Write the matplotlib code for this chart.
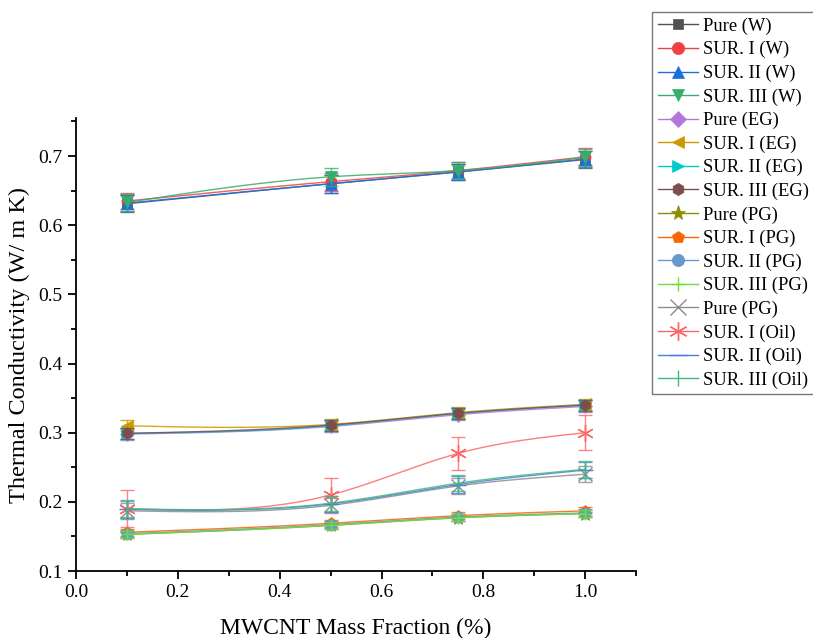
import numpy as np
import matplotlib
matplotlib.use("Agg")
import matplotlib.pyplot as plt
from matplotlib.lines import Line2D
from matplotlib.ticker import MultipleLocator

plt.rcParams['font.family'] = ['Liberation Serif', 'DejaVu Serif']

# mass fraction of MWCNT (%)
mass = [0.1, 0.5, 0.75, 1.0]

labels = ["Pure (W)", "SUR. I (W)", "SUR. II (W)", "SUR. III (W)",
          "Pure (EG)", "SUR. I (EG)", "SUR. II (EG)", "SUR. III (EG)",
          "Pure (PG)", "SUR. I (PG)", "SUR. II (PG)", "SUR. III (PG)",
          "Pure (PG)", "SUR. I (Oil)", "SUR. II (Oil)", "SUR. III (Oil)"]

pure_w = [0.631, 0.660, 0.677, 0.695]
sur1_w = [0.635, 0.663, 0.679, 0.699]
sur2_w = [0.632, 0.660, 0.677, 0.696]
sur3_w = [0.633, 0.670, 0.679, 0.698]

pure_eg = [0.298, 0.309, 0.326, 0.338]
sur1_eg = [0.310, 0.312, 0.329, 0.341]
sur2_eg = [0.299, 0.310, 0.328, 0.340]
sur3_eg = [0.299, 0.311, 0.328, 0.340]

pure_pg = [0.153, 0.166, 0.177, 0.183]
sur1_pg = [0.156, 0.169, 0.180, 0.187]
sur2_pg = [0.154, 0.167, 0.178, 0.184]
sur3_pg = [0.153, 0.166, 0.177, 0.183]

pure_oil = [0.187, 0.195, 0.223, 0.240]
sur1_oil = [0.190, 0.210, 0.270, 0.300]
sur2_oil = [0.189, 0.197, 0.225, 0.246]
sur3_oil = [0.190, 0.198, 0.227, 0.247]

err_w = [0.012, 0.013, 0.012, 0.012]
err_eg = [0.008, 0.008, 0.008, 0.008]
err_pg = [0.005, 0.005, 0.005, 0.005]
err_oil = [0.012, 0.011, 0.012, 0.012]
err_sur1_oil = [0.027, 0.025, 0.024, 0.025]

values = [pure_w, sur1_w, sur2_w, sur3_w,
          pure_eg, sur1_eg, sur2_eg, sur3_eg,
          pure_pg, sur1_pg, sur2_pg, sur3_pg,
          pure_oil, sur1_oil, sur2_oil, sur3_oil]
errors = [err_w] * 4 + [err_eg] * 4 + [err_pg] * 4 + [err_oil, err_sur1_oil, err_oil, err_oil]

colors = ['#515151', '#F14040', '#1A6FDF', '#37AD6B',
          '#B177DE', '#CC9900', '#00CBCC', '#7D4E4E',
          '#8E8E00', '#FB6501', '#6699CC', '#6FDF35',
          '#8C8C8C', '#FF6666', '#4A7FE0', '#3DBB7A']
markers = ['s', 'o', '^', 'v', 'D', '<', '>', 'h',
           '*', 'p', 'o', '+', 'x', (6, 2, 0), '_', '|']
msizes = [7, 8, 8, 8, 7, 8, 8, 8, 10, 8, 8, 9, 10, 12, 12, 10]


def natural_spline(x, y, n=200):
    # simple natural cubic spline so the curves look like Origin's spline connect
    x = np.asarray(x, float)
    y = np.asarray(y, float)
    k = len(x)
    h = np.diff(x)
    A = np.zeros((k, k))
    b = np.zeros(k)
    A[0, 0] = A[-1, -1] = 1
    for i in range(1, k - 1):
        A[i, i - 1] = h[i - 1]
        A[i, i] = 2 * (h[i - 1] + h[i])
        A[i, i + 1] = h[i]
        b[i] = 6 * ((y[i + 1] - y[i]) / h[i] - (y[i] - y[i - 1]) / h[i - 1])
    m = np.linalg.solve(A, b)
    xs = np.linspace(x[0], x[-1], n)
    idx = np.clip(np.searchsorted(x, xs) - 1, 0, k - 2)
    t0, t1 = x[idx], x[idx + 1]
    hh = t1 - t0
    ys = (m[idx] * (t1 - xs) ** 3 / (6 * hh) + m[idx + 1] * (xs - t0) ** 3 / (6 * hh)
          + (y[idx] / hh - m[idx] * hh / 6) * (t1 - xs)
          + (y[idx + 1] / hh - m[idx + 1] * hh / 6) * (xs - t0))
    return xs, ys


fig = plt.figure(figsize=(8.13, 6.38), dpi=100)
ax = fig.add_axes([0.0935, 0.105, 0.689, 0.71])

handles = []
for vals, err, c, mk, ms, lab in zip(values, errors, colors, markers, msizes, labels):
    xs, ys = natural_spline(mass, vals)
    ax.plot(xs, ys, color=c, lw=1.0, alpha=0.85)
    ax.errorbar(mass, vals, yerr=err, fmt='none', ecolor=c, elinewidth=1.0,
                capsize=5, capthick=1.0, alpha=0.8)
    hollow = mk in ['x', '+', '_', '|', (6, 2, 0)]
    ax.plot(mass, vals, ls='none', marker=mk, ms=ms, color=c,
            mew=1.0 if hollow else 0.5)
    handles.append(Line2D([], [], color=c, lw=1.0, marker=mk, ms=ms * 1.1,
                          mew=1.0 if hollow else 0.5, label=lab))

ax.set_xlim(0, 1.1)
ax.set_ylim(0.1, 0.755)
ax.xaxis.set_minor_locator(MultipleLocator(0.1))
ax.yaxis.set_minor_locator(MultipleLocator(0.05))
ax.set_xticks([0.0, 0.2, 0.4, 0.6, 0.8, 1.0])
ax.set_xticklabels(['0.0', '0.2', '0.4', '0.6', '0.8', '1.0'])
ax.set_yticks([0.1, 0.2, 0.3, 0.4, 0.5, 0.6, 0.7])
ax.set_yticklabels(['0.1', '0.2', '0.3', '0.4', '0.5', '0.6', '0.7'])
ax.tick_params(which='major', direction='out', length=6, width=1.3, labelsize=14)
ax.tick_params(which='minor', direction='out', length=3.5, width=1.3)
for s in ['top', 'right']:
    ax.spines[s].set_visible(False)
for s in ['left', 'bottom']:
    ax.spines[s].set_linewidth(1.3)

ax.set_xlabel('MWCNT Mass Fraction (%)', fontsize=17, labelpad=12)
ax.set_ylabel('Thermal Conductivity (W/ m K)', fontsize=17.5, labelpad=6)

leg = fig.legend(handles=handles, loc='upper left', bbox_to_anchor=(652 / 813, 1 - 12 / 638),
                 fontsize=13.3, frameon=True, fancybox=False, handlelength=2.2,
                 handletextpad=0.25, borderpad=0.3, labelspacing=0.34, borderaxespad=0)
leg.get_frame().set_edgecolor('#555555')
leg.get_frame().set_linewidth(1.0)

fig.savefig('out.png', dpi=100)
